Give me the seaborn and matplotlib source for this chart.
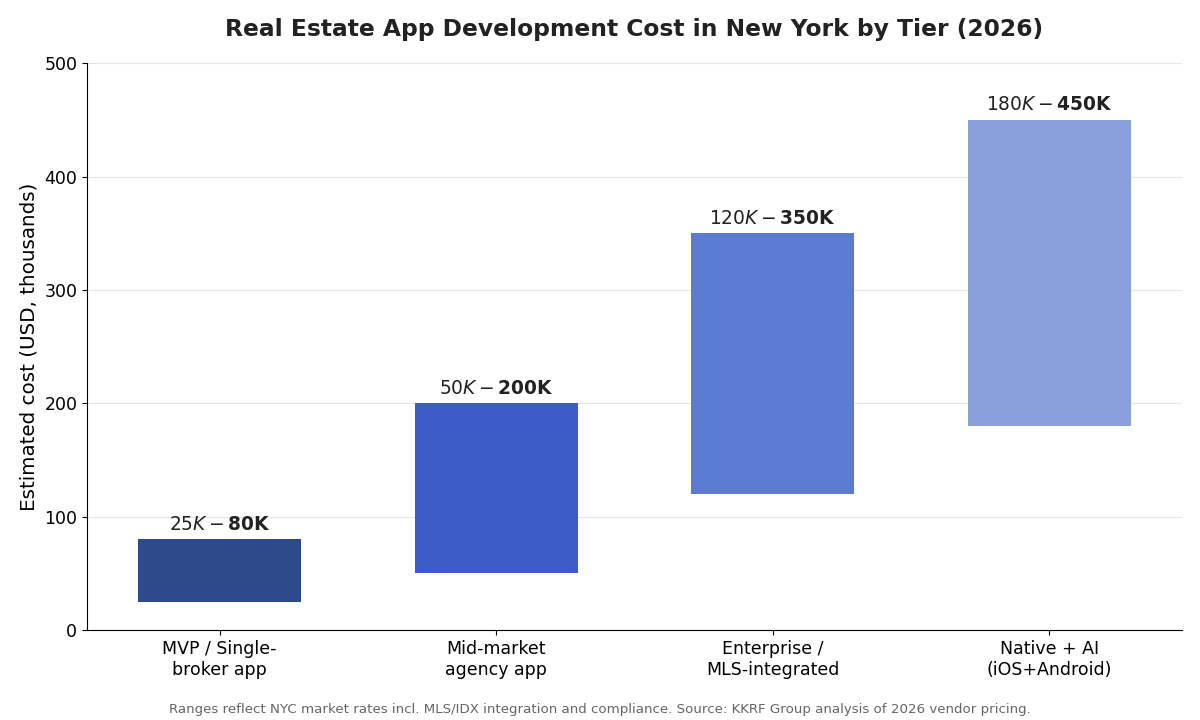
import numpy as np
import pandas as pd
import matplotlib
matplotlib.use("Agg")
import matplotlib.pyplot as plt
import seaborn as sns

tiers = ["MVP / Single-\nbroker app", "Mid-market\nagency app", "Enterprise /\nMLS-integrated", "Native + AI\n(iOS+Android)"]
low_k = [25, 50, 120, 180]
high_k = [80, 200, 350, 450]
bar_colors = ["#2d4b8c", "#3c5cc8", "#5b7bd0", "#8aa0dc"]

df = pd.DataFrame({"tier": tiers, "low": low_k, "high": high_k})
df["span"] = df["high"] - df["low"]

sns.set_style("ticks")
plt.rcParams.update({"text.color": "black", "axes.labelcolor": "black",
                     "xtick.color": "black", "ytick.color": "black",
                     "axes.edgecolor": "black"})
fig, ax = plt.subplots(figsize=(12, 7.2), dpi=100)

# floating bars: span drawn on top of the low end of each range
sns.barplot(data=df, x="tier", y="span", bottom=df["low"].values, color=bar_colors[0],
            width=0.59, ax=ax, saturation=1, linewidth=0)
for patch, c in zip(ax.patches, bar_colors):
    patch.set_facecolor(c)

for i, row in df.iterrows():
    ax.text(i, row["high"] + 5, f"${row['low']}K - ${row['high']}K",
            ha="center", va="bottom", fontsize=13.4, fontweight="bold", color="#222222")

ax.set_ylim(0, 500)
ax.set_xlim(-0.48, 3.48)
ax.set_yticks(range(0, 501, 100))
ax.yaxis.grid(True, color="#e6e6e6", linewidth=0.8)
ax.set_axisbelow(True)
sns.despine(ax=ax)
ax.set_xlabel("")
ax.set_ylabel("Estimated cost (USD, thousands)", fontsize=14.3)
ax.tick_params(axis="both", labelsize=12.5)
ax.set_title("Real Estate App Development Cost in New York by Tier (2026)",
             fontsize=16.8, fontweight="bold", color="#222222", pad=20)

fig.text(0.5, 0.006, "Ranges reflect NYC market rates incl. MLS/IDX integration and compliance. Source: KKRF Group analysis of 2026 vendor pricing.",
         ha="center", va="bottom", fontsize=9.6, color="#666666")

fig.subplots_adjust(left=0.0725, right=0.985, top=0.912, bottom=0.125)
fig.savefig("out.png", dpi=100)
